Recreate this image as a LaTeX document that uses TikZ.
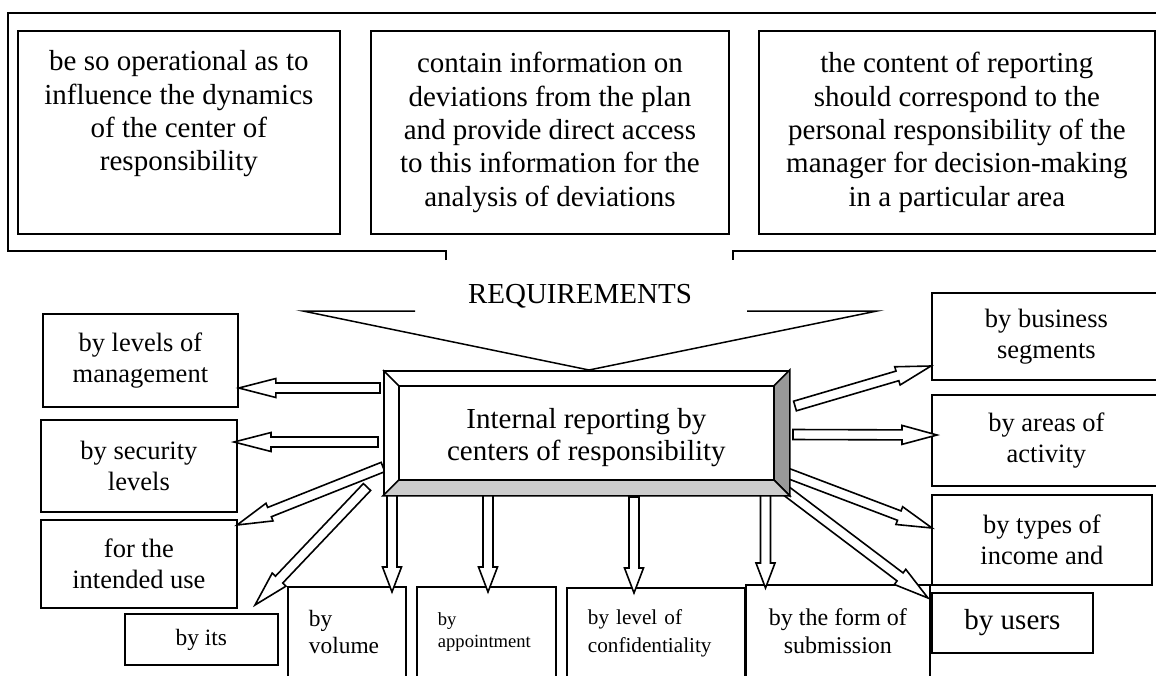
\documentclass[tikz,border=0pt]{standalone}
\usepackage{fontspec}
\setmainfont{Liberation Serif}
\usetikzlibrary{calc, positioning}

\tikzset{
  box/.style={draw, line width=1.8pt, inner sep=0pt, anchor=north west, align=center},
  leftbox/.style={box, align=left, inner xsep=21pt},
  sz/.style 2 args={minimum width=#1pt, minimum height=#2pt},
  bigfont/.style={font=\fontsize{29}{33.4}\selectfont},
  midfont/.style={font=\fontsize{26.5}{31}\selectfont},
  smallfont/.style={font=\fontsize{23.4}{27}\selectfont},
  blockarrow/.style={draw, fill=white, line width=1.6pt, line join=miter},
  frame/.style={line width=1.8pt}
}

% hollow block arrow: [head length] {from} {to}
\newcommand{\hollowarrow}[3][30]{%
  \coordinate (hah) at ($(#3)!#1pt!(#2)$);
  \draw[blockarrow] ($(#2)!5pt!90:(#3)$) -- ($(hah)!5pt!-90:(#2)$)
    -- ($(hah)!9.5pt!-90:(#2)$) -- (#3) -- ($(hah)!9.5pt!90:(#2)$)
    -- ($(hah)!5pt!90:(#2)$) -- ($(#2)!5pt!-90:(#3)$) -- cycle;
}

\begin{document}
\begin{tikzpicture}[x=1pt, y=-1pt]
  \useasboundingbox (0,0) rectangle (1156,675);
  \clip (0,0) rectangle (1156,675);

  % Requirements frame
  \draw[frame] (446,260) -- (446,251) -- (8,251) -- (8,13) -- (1162,13)
    -- (1162,251) -- (733,251) -- (733,260);
  \node[box, sz={322}{203}, bigfont] (operative) at (17,30)
    {be so operational as to\\influence the dynamics\\of the center of\\responsibility\\\strut};
  \node[box, sz={358}{203}, bigfont] (deviations) at (370,30)
    {contain information on\\deviations from the plan\\and provide direct access\\to this information for the\\analysis of deviations};
  \node[box, sz={396}{203}, bigfont] (content) at (758,30)
    {the content of reporting\\should correspond to the\\personal responsibility of the\\manager for decision-making\\in a particular area};

  % Callout
  \node[bigfont, anchor=base, inner sep=0pt] (req) at (580,303) {REQUIREMENTS};
  \coordinate (apex) at (589,370);
  \coordinate (cl) at (303,311);
  \coordinate (cr) at (877,311);
  \draw[frame, line width=1.5pt] (415,311) -- (cl) -- (apex) -- (cr) -- (747,311);

  % Left boxes
  \node[box, sz={195}{93}, midfont] (levels) at (42,313) {by levels of\\management};
  \node[box, sz={196}{92}, midfont] (security) at (40,419) {by security\\levels};
  \node[box, sz={196}{88}, midfont] (use) at (40,519) {for the\\intended use};
  \node[box, sz={153}{51}, smallfont] (its) at (124,613) {by its};

  % Bottom boxes
  \node[leftbox, sz={118}{91}, text width=76pt, smallfont] (volume) at (287,586) {by\\volume};
  \node[leftbox, sz={139}{91}, text width=97pt, font=\fontsize{18.6}{22}\selectfont] (appoint) at (416,586) {by\\appointment};
  \node[leftbox, sz={178}{90}, text width=136pt, font=\fontsize{21.2}{28}\selectfont] (confid) at (566,587) {by level of\\confidentiality};
  \node[box, sz={184}{93}, font=\fontsize{24}{28}\selectfont] (form) at (745,584) {by the form of\\submission};

  % Right boxes
  \node[box, sz={229}{87}, midfont] (business) at (931,292) {by business\\segments};
  \node[box, sz={229}{91}, midfont] (areas) at (931,394) {by areas of\\activity};
  \node[box, sz={220}{90}, midfont] (income) at (931,494) {by types of\\income and};
  \node[box, sz={161}{60}, bigfont] (users) at (931,592) {by users};

  % Arrow ends
  \coordinate (s1) at (380,388);   \coordinate (t1) at (levels.east |- s1);
  \coordinate (s2) at (378,442);   \coordinate (t2) at (234,442);
  \coordinate (s3) at (383,467);   \coordinate (t3) at (237,525);
  \coordinate (s4) at (367,487);   \coordinate (t4) at (255,605);
  \coordinate (s5) at (392,495);   \coordinate (t5) at (392,592);
  \coordinate (s6) at (488,495);   \coordinate (t6) at (488,592);
  \coordinate (s7) at (634,497);   \coordinate (t7) at (634,593);
  \coordinate (s8) at (765.5,492); \coordinate (t8) at (765.5,588);
  \coordinate (s9) at (785,490);   \coordinate (t9) at (928,598);
  \coordinate (s10) at (787,473);  \coordinate (t10) at (932,528);
  \coordinate (s11) at (793,434.5);\coordinate (t11) at (937,435);
  \coordinate (s12) at (795,406);  \coordinate (t12) at (931,366);

  % Connect the nodes
  \hollowarrow[37]{s1}{t1}
  \hollowarrow[37]{s2}{t2}
  \hollowarrow[35]{s3}{t3}
  \hollowarrow[35]{s4}{t4}
  \hollowarrow[25]{s5}{t5}
  \hollowarrow[25]{s6}{t6}
  \hollowarrow[25]{s7}{t7}
  \hollowarrow[25]{s8}{t8}
  \hollowarrow[35]{s9}{t9}
  \hollowarrow[35]{s10}{t10}
  \hollowarrow[35]{s11}{t11}
  \hollowarrow[35]{s12}{t12}

  % Central box with bevel
  \node[box, sz={405}{124}, fill=white, line width=1.8pt] (main) at (383,370) {};
  \draw[line width=1.6pt, fill=black!40] (main.north east) -- (main.south east)
    -- ($(main.south east)+(-16,-16)$) -- ($(main.north east)+(-16,16)$) -- cycle;
  \draw[line width=1.6pt, fill=black!20] (main.south west) -- (main.south east)
    -- ($(main.south east)+(-16,-16)$) -- ($(main.south west)+(16,-16)$) -- cycle;
  \draw[line width=1.6pt] ($(main.north west)+(16,16)$) rectangle ($(main.south east)+(-16,-16)$);
  \draw[line width=1.6pt] (main.north west) -- ($(main.north west)+(16,16)$);
  \node[align=center, font=\fontsize{29}{32}\selectfont] (maintext) at ($(main.center)+(0,5)$)
    {Internal reporting by\\centers of responsibility};
\end{tikzpicture}
\end{document}
